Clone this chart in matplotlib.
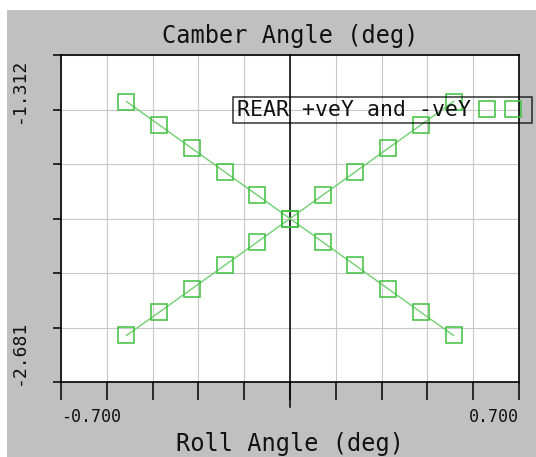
import matplotlib
matplotlib.use('Agg')
import matplotlib.pyplot as plt
import matplotlib.transforms as mtransforms
from matplotlib.patches import Rectangle
from matplotlib.lines import Line2D
from matplotlib.legend_handler import HandlerLine2D

# data
roll_angle = [-0.5, -0.4, -0.3, -0.2, -0.1, 0.0, 0.1, 0.2, 0.3, 0.4, 0.5]
camber_pos = [-1.262, -1.409, -1.556, -1.703, -1.850, -1.997,
              -2.144, -2.291, -2.438, -2.585, -2.731]
camber_neg = [-2.731, -2.585, -2.438, -2.291, -2.144, -1.997,
              -1.850, -1.703, -1.556, -1.409, -1.262]

x_min, x_max = -0.700, 0.700
y_min, y_max = -3.023, -0.970
y_labels = {-2.681: '-2.681', -1.312: '-1.312'}

mono = 'DejaVu Sans Mono'
line_col = '#6fd06f'
mark_col = '#3fc03f'
bg_gray = '#c0c0c0'

fig = plt.figure(figsize=(5.36, 4.57), dpi=100)
fig.patch.set_facecolor('white')
# gray panel, leaving thin white strip top/left like the screenshot
fig.add_artist(Rectangle((7 / 536, 0), 1, 1 - 10 / 457, transform=fig.transFigure,
                         facecolor=bg_gray, edgecolor='none', zorder=-10))

ax = fig.add_axes([61 / 536, 1 - 382 / 457, 458 / 536, 327 / 457])
ax.set_facecolor('white')
ax.set_xlim(x_min, x_max)
ax.set_ylim(y_min, y_max)

# grid
x_ticks = [x_min + i * (x_max - x_min) / 10 for i in range(11)]
y_ticks = [y_min + i * (y_max - y_min) / 6 for i in range(7)]
ax.set_xticks(x_ticks)
ax.set_yticks(y_ticks)
ax.grid(True, color='#c8c8c8', linewidth=0.8, zorder=0)
ax.set_axisbelow(True)

# zero roll line, sticks out a bit below the frame
ax.axvline(0, ymin=-0.075, ymax=1, color='black', linewidth=1.1, clip_on=False, zorder=1)

# lines then hollow square markers
ax.plot(roll_angle, camber_pos, color=line_col, linewidth=1.0, zorder=2)
ax.plot(roll_angle, camber_neg, color=line_col, linewidth=1.0, zorder=2)
mk = ax.plot(roll_angle, camber_pos, linestyle='none', marker='s', markersize=11,
             markerfacecolor='none', markeredgecolor=mark_col, markeredgewidth=1.1,
             label='REAR +veY and -veY', zorder=3)[0]
ax.plot(roll_angle, camber_neg, linestyle='none', marker='s', markersize=11,
        markerfacecolor='none', markeredgecolor=mark_col, markeredgewidth=1.1, zorder=3)

for s in ax.spines.values():
    s.set_color('black')
    s.set_linewidth(1.2)

# tick labels only at the ends
x_text = ['' for _ in x_ticks]
x_text[0] = '-0.700'
x_text[-1] = '0.700'
ax.set_xticklabels(x_text, fontfamily=mono, fontsize=12, color='#111111')
ax.tick_params(axis='x', direction='out', length=13, width=1.1, pad=6)
xl = ax.get_xticklabels()
xl[0].set_ha('left')
xl[-1].set_ha('right')

y_text = []
for v in y_ticks:
    y_text.append(next((t for k, t in y_labels.items() if abs(k - v) < 0.01), ''))
ax.set_yticklabels(y_text, fontfamily=mono, fontsize=13, color='#111111',
                   rotation=90, va='center')
ax.tick_params(axis='y', direction='out', length=6, width=1.1, pad=18)
# the y labels sit a little outside their ticks
for lab in ax.get_yticklabels():
    if lab.get_text() == '-1.312':
        dy = 14
    elif lab.get_text() == '-2.681':
        dy = -18
    else:
        dy = 0
    lab.set_transform(lab.get_transform() +
                      mtransforms.ScaledTranslation(0, dy / 72, fig.dpi_scale_trans))

ax.set_title('Camber Angle (deg)', fontfamily=mono, fontsize=17, color='#111111',
             y=1.058, va='center', pad=0)
ax.set_xlabel('Roll Angle (deg)', fontfamily=mono, fontsize=17, color='#111111')
ax.xaxis.set_label_coords(0.5, -0.19)
ax.xaxis.label.set_va('center')

leg = ax.legend(handles=[mk], loc='upper right', bbox_to_anchor=(532 / 536, 1 - 97 / 457),
                bbox_transform=fig.transFigure, numpoints=2, markerfirst=False,
                fancybox=False, frameon=True, borderpad=0.15, borderaxespad=0,
                handlelength=2.65, handletextpad=0.05,
                handler_map={Line2D: HandlerLine2D(marker_pad=0.72)},
                prop={'family': mono, 'size': 15.5})
leg.get_frame().set_facecolor('none')
leg.get_frame().set_edgecolor('black')
leg.get_frame().set_linewidth(1.1)
for t in leg.get_texts():
    t.set_color('#111111')

fig.savefig('out.png', dpi=100)
